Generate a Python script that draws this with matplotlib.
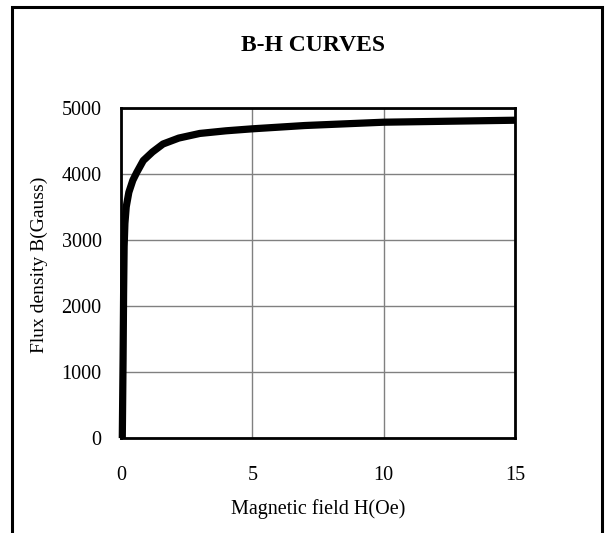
import matplotlib
matplotlib.use("Agg")
import matplotlib.pyplot as plt
from matplotlib.patches import Rectangle

# B-H curve
field_h = [0.05, 0.08, 0.1, 0.12, 0.15, 0.2, 0.3, 0.45, 0.6, 0.85, 1.2, 1.6, 2.2, 3.0, 4.0, 5.0, 7.0, 10.0, 15.0]
flux_b = [0, 1200, 2200, 2900, 3250, 3500, 3720, 3900, 4020, 4200, 4330, 4450, 4540, 4610, 4650, 4680, 4730, 4780, 4810]

x_ticks = [0, 5, 10, 15]
y_ticks = [0, 1000, 2000, 3000, 4000, 5000]

plt.rcParams['font.family'] = ['Liberation Serif', 'DejaVu Serif']

fig = plt.figure(figsize=(6.11, 5.33), dpi=100)
ax = fig.add_axes([0.198, 0.178, 0.645, 0.620])

ax.plot(field_h, flux_b, color='black', lw=5.2, solid_capstyle='butt', solid_joinstyle='round', clip_on=False, zorder=3)

ax.set_xlim(0, 15)
ax.set_ylim(0, 5000)
ax.set_xticks(x_ticks)
ax.set_yticks(y_ticks)
ax.grid(True, color='#808080', lw=1.0)
ax.set_axisbelow(True)
ax.tick_params(length=0, labelsize=14.5, pad=14)
ax.tick_params(axis='x', pad=20)
for sp in ax.spines.values():
    sp.set_linewidth(2)
    sp.set_color('black')

ax.set_xlabel('Magnetic field H(Oe)', fontsize=14.5, labelpad=10)
ax.set_ylabel('Flux density B(Gauss)', fontsize=14)
ax.yaxis.set_label_coords(-0.185, 0.524)
fig.text(0.512, 0.914, 'B-H CURVES', fontsize=17, fontweight='bold', ha='center', va='center')

# outer chart border, cut off at the bottom like the reference
fig.patches.append(Rectangle((0.019, -0.02), 0.967, 1.007, transform=fig.transFigure,
                             fill=False, edgecolor='black', lw=2.2))

fig.savefig('out.png', dpi=100)
